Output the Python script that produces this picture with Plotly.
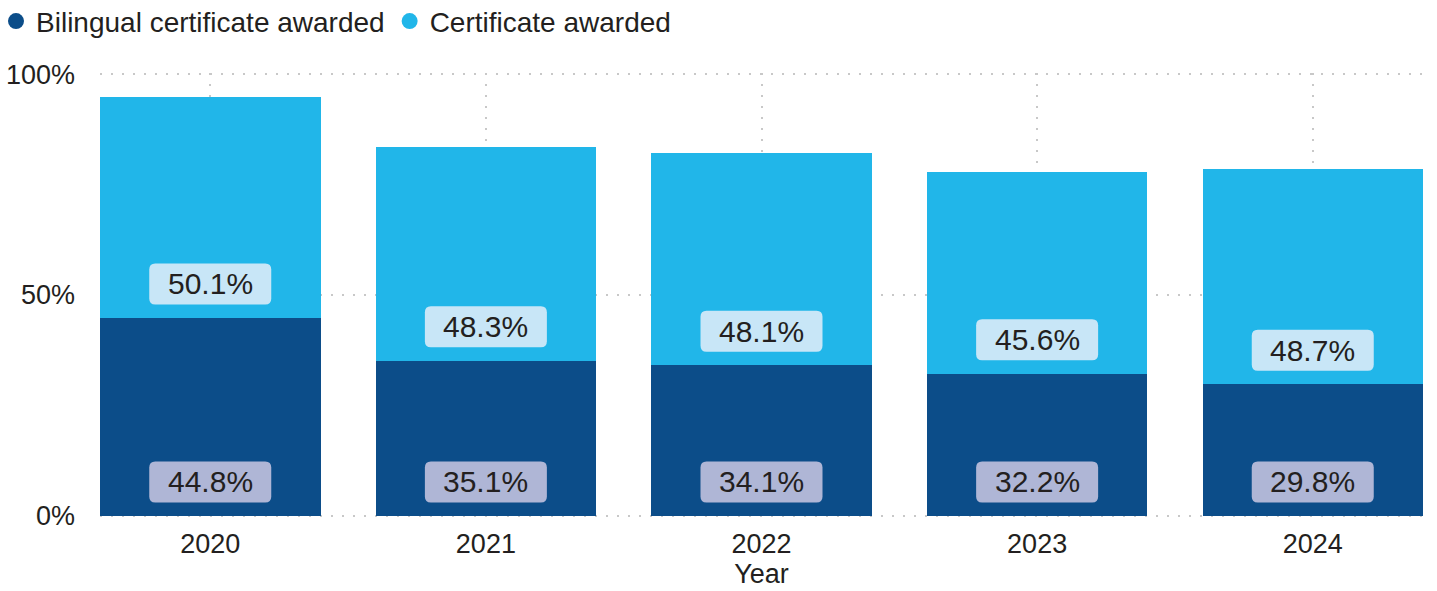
import plotly.graph_objects as go

years = [2020, 2021, 2022, 2023, 2024]
bilingual = [44.8, 35.1, 34.1, 32.2, 29.8]
certificate = [50.1, 48.3, 48.1, 45.6, 48.7]
tick_vals_y = [0, 50, 100]
tick_text_y = ["0%", "50%", "100%"]

DARK = "#0C4D89"
LIGHT = "#21B6E9"
DARK_BOX = "#AFB6D6"
LIGHT_BOX = "#C8E6F7"
TXT = "#231F20"
GRID = "#C8C8C8"
FONT = "Liberation Sans, Arial, sans-serif"

fig = go.Figure()
fig.add_trace(go.Bar(x=years, y=bilingual, marker=dict(color=DARK, line=dict(width=0)),
                     showlegend=False, name="Bilingual certificate awarded"))
fig.add_trace(go.Bar(x=years, y=certificate, marker=dict(color=LIGHT, line=dict(width=0)),
                     showlegend=False, name="Certificate awarded"))
# legend entries with circle markers
fig.add_trace(go.Scatter(x=[None], y=[None], mode="markers", name="Bilingual certificate awarded",
                         marker=dict(color=DARK, size=20, symbol="circle")))
fig.add_trace(go.Scatter(x=[None], y=[None], mode="markers", name="Certificate awarded",
                         marker=dict(color=LIGHT, size=20, symbol="circle")))

# rounded label boxes (pixel-sized, anchored at segment bases)
W, H0, H1, R = 61, 13.5, 54.5, 6
box_path = (f"M {-W+R},{H0} L {W-R},{H0} Q {W},{H0} {W},{H0+R} L {W},{H1-R} "
            f"Q {W},{H1} {W-R},{H1} L {-W+R},{H1} Q {-W},{H1} {-W},{H1-R} "
            f"L {-W},{H0+R} Q {-W},{H0} {-W+R},{H0} Z")
shapes = []
annotations = []
for yr, b, c in zip(years, bilingual, certificate):
    for base, val, col in [(0, b, DARK_BOX), (b, c, LIGHT_BOX)]:
        shapes.append(dict(type="path", xref="x", yref="y", xsizemode="pixel", ysizemode="pixel",
                           xanchor=yr, yanchor=base, path=box_path, fillcolor=col,
                           line=dict(width=0), layer="above"))
        annotations.append(dict(x=yr, y=base, yshift=34, text=f"{val:.1f}%", showarrow=False,
                                xref="x", yref="y", font=dict(size=30, color=TXT, family=FONT)))

fig.update_layout(
    barmode="stack",
    bargap=0.2,
    width=1437, height=591,
    margin=dict(l=100, r=14, t=73, b=74, autoexpand=False),
    paper_bgcolor="white", plot_bgcolor="white",
    font=dict(family=FONT, color=TXT, size=27),
    shapes=shapes,
    annotations=annotations,
    legend=dict(orientation="h", xref="paper", yref="paper", x=-0.0786, y=1.1726,
                xanchor="left", yanchor="top", font=dict(size=28, color=TXT),
                itemwidth=30, traceorder="normal", bgcolor="rgba(0,0,0,0)"),
    xaxis=dict(range=[2019.6, 2024.4], tickvals=years, ticktext=[str(y) for y in years],
               showgrid=True, gridcolor=GRID, griddash="2px,9px", gridwidth=2,
               zeroline=False, showline=False, ticks="", ticklabelstandoff=8, automargin=False,
               tickfont=dict(size=27, color=TXT),
               title=dict(text="Year", font=dict(size=27, color=TXT), standoff=6)),
    yaxis=dict(range=[-0.25, 100.25], tickvals=tick_vals_y, ticktext=tick_text_y,
               showgrid=True, gridcolor=GRID, griddash="2px,9px", gridwidth=2,
               zeroline=False, showline=False, ticks="", ticklabelstandoff=24, automargin=False,
               tickfont=dict(size=27, color=TXT)),
)

fig.write_html("out.html", config={"displayModeBar": False},
               post_script="document.body.style.margin='0';document.body.style.overflow='hidden';")
